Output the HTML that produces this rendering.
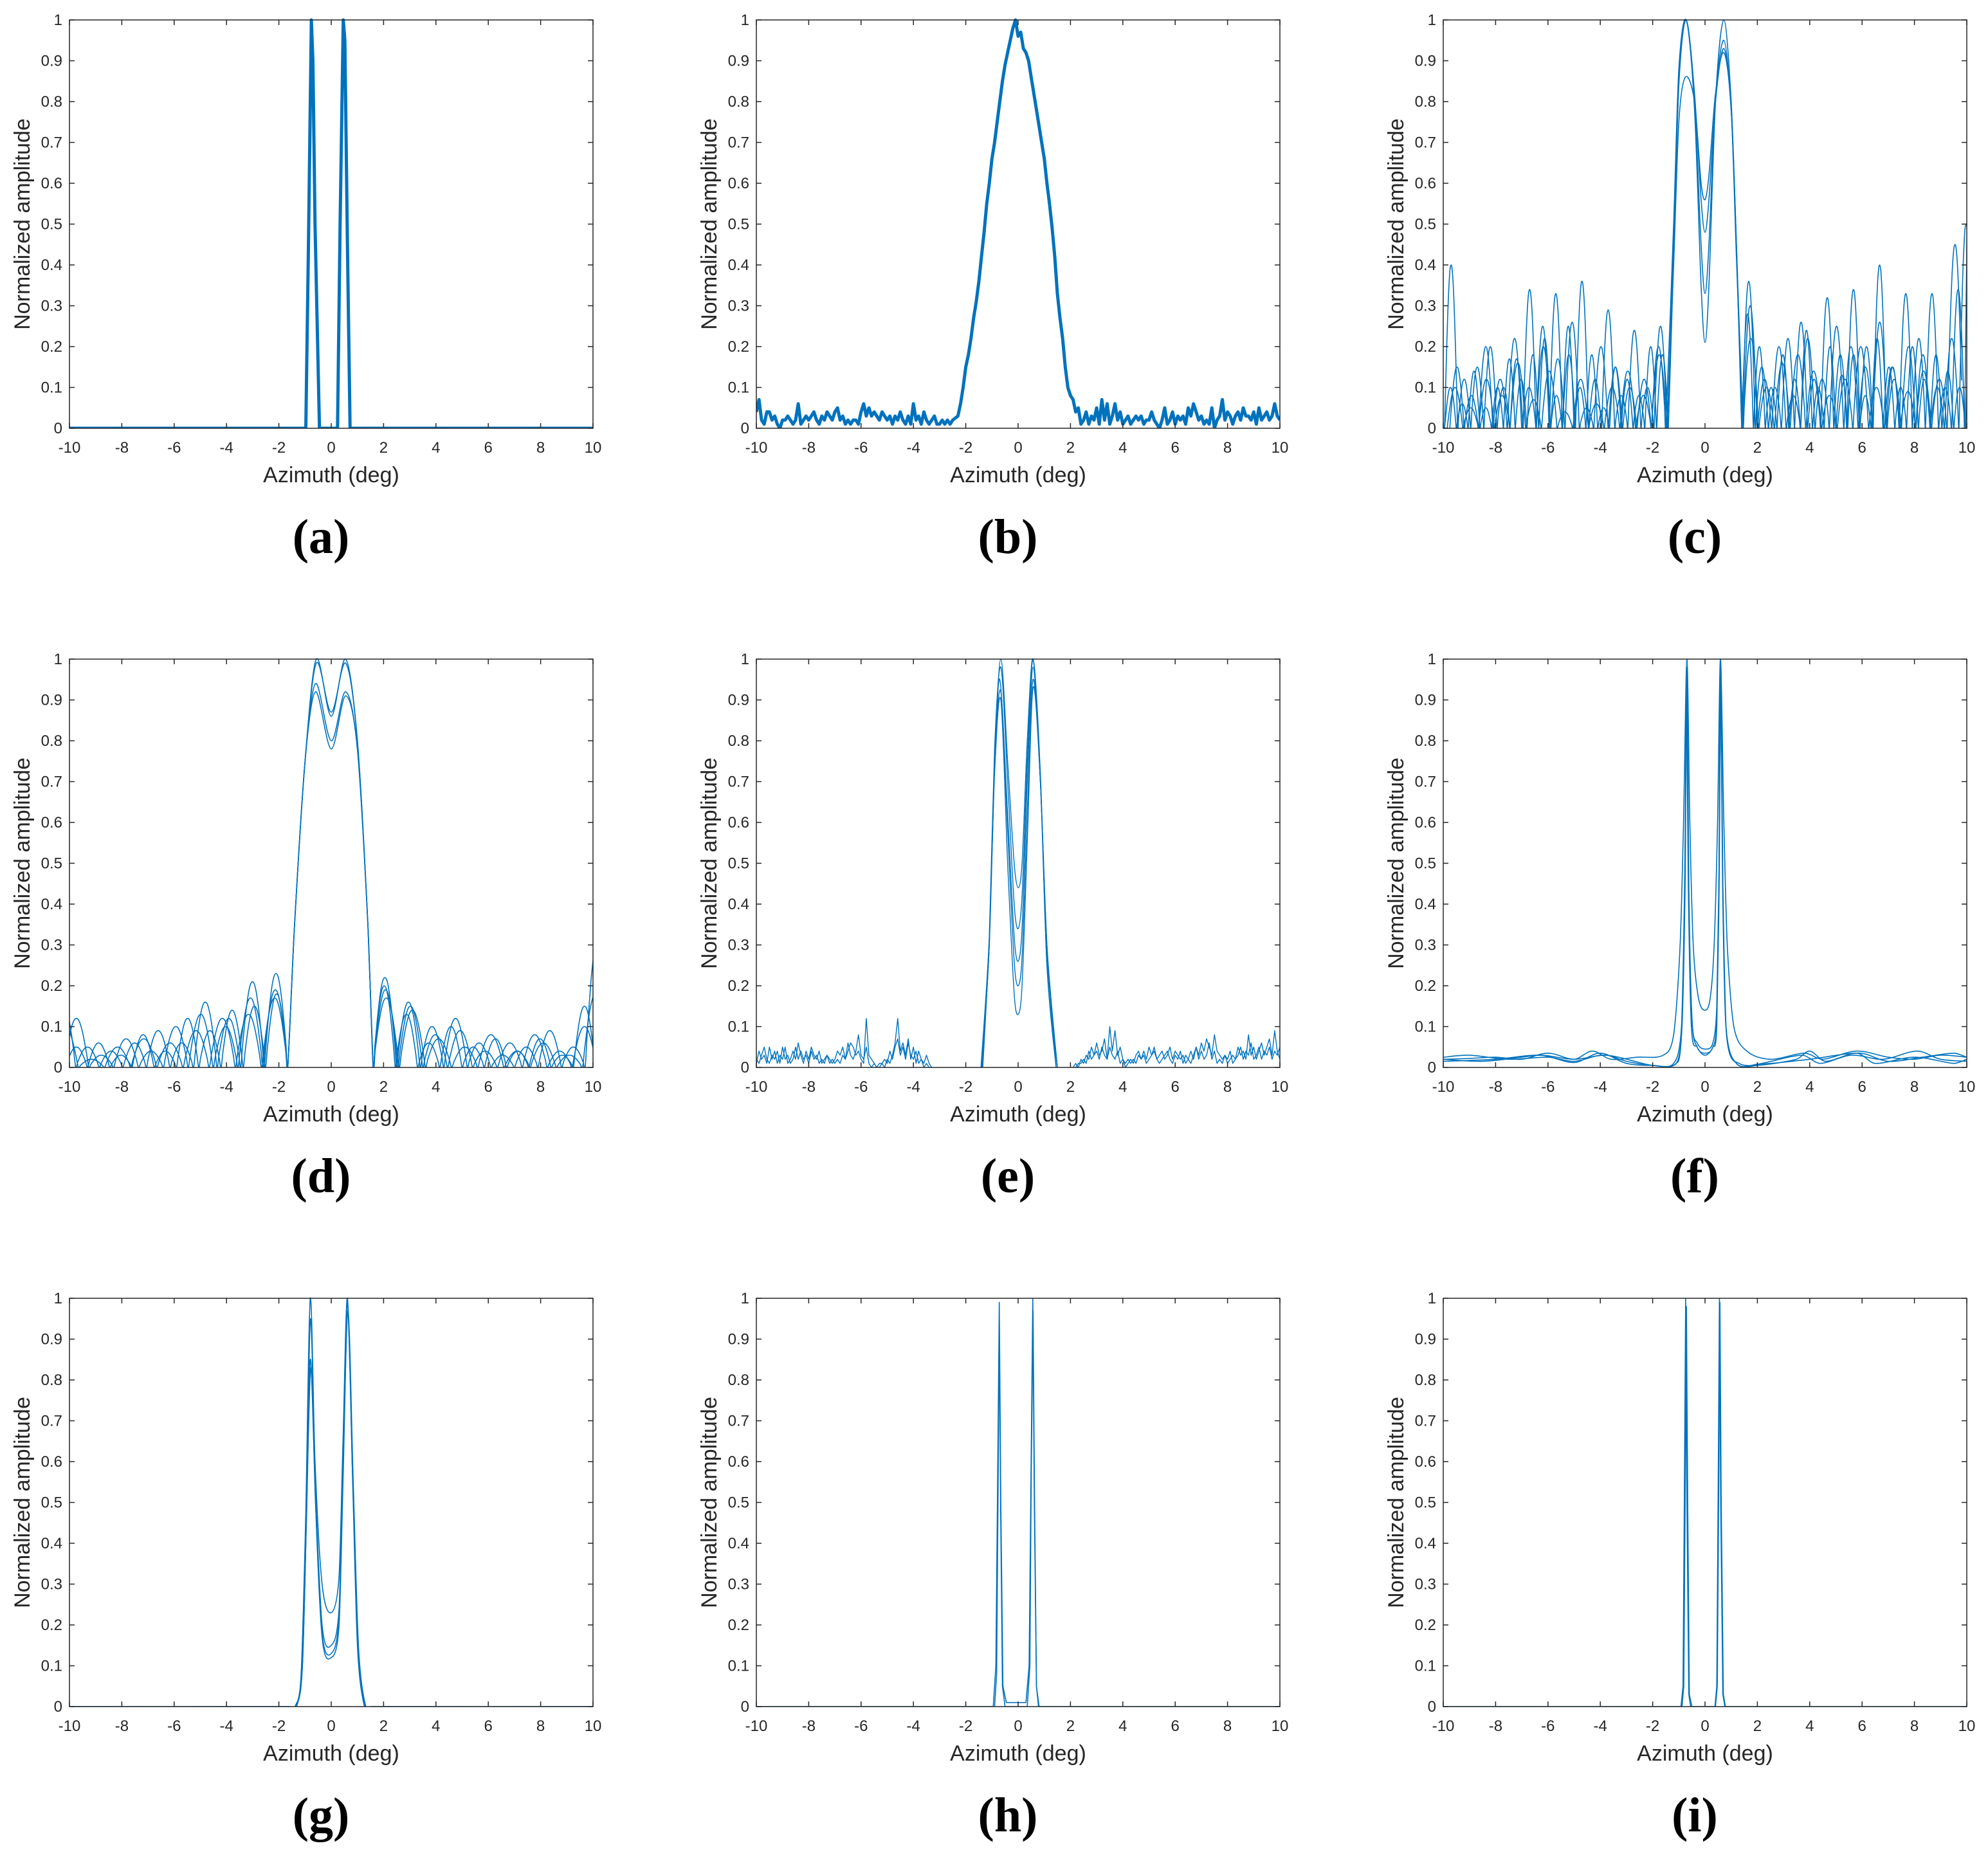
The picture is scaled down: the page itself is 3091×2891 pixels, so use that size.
<!DOCTYPE html>
<html><head><meta charset="utf-8">
<style>
html,body{margin:0;padding:0;background:#fff;}
svg{display:block;}
text{font-family:"Liberation Sans",Arial,sans-serif;fill:#262626;}
.cap{font-family:"Liberation Serif","Times New Roman",serif;font-weight:bold;fill:#000;}
</style></head>
<body>
<svg id="fig" width="3091" height="2891" viewBox="0 0 3091 2891" xmlns="http://www.w3.org/2000/svg"></svg>
<script>
// ---------- shared axis data ----------
const xTicks = [-10,-8,-6,-4,-2,0,2,4,6,8,10];
const xTickLabels = ["-10","-8","-6","-4","-2","0","2","4","6","8","10"];
const yTicks = [0,0.1,0.2,0.3,0.4,0.5,0.6,0.7,0.8,0.9,1];
const yTickLabels = ["0","0.1","0.2","0.3","0.4","0.5","0.6","0.7","0.8","0.9","1"];
const panelIds = ["a","b","c","d","e","f","g","h","i"];

// ---------- (a) ----------
const a1 = [[-10,0],[-0.97,0],[-0.87,0.45],[-0.76,1],[-0.7,0.9],[-0.62,0.5],[-0.45,0],[0.24,0],[0.34,0.5],[0.46,1],[0.52,0.95],[0.62,0.45],[0.72,0],[10,0]];

// ---------- (b) noisy single trace (grid step 0.1) ----------
const bNoiseL = [0.04,0.07,0.02,0.01,0.04,0.04,0.02,0.03,0.01,0.00,0.02,0.02,0.03,0.02,0.01,0.02,0.06,0.01,0.02,0.03,0.02,0.03,0.04,0.02,0.01,0.03,0.02,0.04,0.03,0.02,0.04,0.05,0.02,0.03,0.01,0.02,0.01,0.02,0.02,0.01,0.04,0.06,0.03,0.05,0.03,0.04,0.03,0.02,0.04,0.03,0.02,0.03,0.01,0.03,0.02,0.04,0.02,0.01,0.03,0.01,0.06,0.02,0.03,0.01,0.04,0.02,0.01,0.02,0.03,0.01,0.01,0.02,0.01,0.02,0.01,0.02];
const bMain = [0.03,0.06,0.10,0.15,0.18,0.22,0.27,0.31,0.36,0.42,0.48,0.55,0.60,0.66,0.70,0.75,0.80,0.85,0.89,0.92,0.95,0.98,1.0,0.96,0.97,0.93,0.92,0.90,0.86,0.82,0.78,0.74,0.70,0.66,0.60,0.55,0.49,0.42,0.33,0.27,0.22,0.15,0.10,0.08,0.07,0.04];
const bNoiseR = [0.05,0.01,0.02,0.04,0.01,0.03,0.02,0.05,0.01,0.07,0.02,0.06,0.01,0.03,0.06,0.02,0.04,0.01,0.02,0.03,0.01,0.02,0.03,0.02,0.03,0.01,0.02,0.02,0.04,0.02,0.01,0.00,0.02,0.05,0.01,0.02,0.04,0.01,0.03,0.02,0.03,0.01,0.05,0.03,0.06,0.04,0.02,0.03,0.01,0.02,0.01,0.05,0.00,0.02,0.03,0.07,0.02,0.04,0.03,0.01,0.03,0.04,0.02,0.05,0.03,0.03,0.02,0.04,0.01,0.05,0.02,0.03,0.04,0.02,0.03,0.06,0.03,0.02];
const bStartL = -10, bStartM = -2.3, bStartR = 2.3, bStep = 0.1;

// ---------- (c) main lobes + sidelobes ----------
const cMain1 = [[-1.45,0],[-1.2,0.45],[-1.0,0.85],[-0.72,1],[-0.4,0.78],[-0.15,0.35],[0,0.21],[0.15,0.35],[0.4,0.8],[0.72,1],[1.0,0.8],[1.2,0.45],[1.42,0]];
const cMain2 = [[-1.5,0],[-1.2,0.5],[-1.0,0.88],[-0.72,1],[-0.4,0.8],[-0.15,0.45],[0,0.33],[0.15,0.45],[0.4,0.8],[0.72,0.95],[1.0,0.78],[1.2,0.45],[1.45,0]];
const cMain3 = [[-1.4,0],[-1.2,0.42],[-1.0,0.84],[-0.72,1],[-0.4,0.82],[-0.15,0.56],[0,0.48],[0.15,0.56],[0.4,0.8],[0.72,0.93],[1.0,0.78],[1.2,0.45],[1.4,0]];
const cMain4 = [[-1.45,0],[-1.2,0.4],[-1.0,0.75],[-0.75,0.86],[-0.4,0.8],[-0.15,0.6],[0,0.56],[0.15,0.62],[0.4,0.82],[0.72,0.92],[1.0,0.78],[1.2,0.42],[1.45,0]];
const cLeft1 = [0.4,0.12,0.15,0.2,0.1,0.17,0.34,0.25,0.33,0.18,0.36,0.12,0.29,0.08,0.24,0.1,0.25];
const cRight1 = [0.36,0.15,0.1,0.22,0.26,0.12,0.32,0.18,0.34,0.2,0.40,0.15,0.33,0.22,0.33,0.1,0.34,0.9];
const cLeft2 = [0.15,0.08,0.2,0.12,0.22,0.1,0.2,0.17,0.26,0.05,0.2,0.15,0.1,0.12,0.2];
const cRight2 = [0.30,0.12,0.2,0.08,0.22,0.12,0.25,0.2,0.15,0.26,0.12,0.2,0.18,0.1,0.22,0.5];
const cLeft3 = [0.1,0.06,0.14,0.05,0.1,0.17,0.12,0.18,0.22,0.08,0.25,0.1,0.18,0.05,0.15,0.12,0.08,0.2,0.18];
const cRight3 = [0.28,0.2,0.1,0.18,0.12,0.24,0.1,0.2,0.13,0.18,0.08,0.22,0.15,0.1,0.2,0.12,0.18,0.14,0.1,0.28];
const cLeft4 = [0.1,0.05,0.12,0.08,0.16,0.07,0.14,0.04,0.12,0.06,0.1,0.14,0.08,0.18];
const cRight4 = [0.22,0.1,0.16,0.18,0.14,0.08,0.12,0.2,0.1,0.15,0.09,0.14,0.12,0.45];
const cWidths = [0.5,0.55,0.45,0.6];

// ---------- (d) ----------
const dMain1 = [[-1.66,0],[-1.4,0.35],[-1.0,0.75],[-0.57,1],[0,0.86],[0.55,1],[1.0,0.8],[1.4,0.35],[1.6,0]];
const dMain2 = [[-1.66,0],[-1.4,0.35],[-1.0,0.75],[-0.57,0.99],[0,0.87],[0.55,0.99],[1.0,0.8],[1.4,0.35],[1.6,0]];
const dMain3 = [[-1.66,0],[-1.4,0.35],[-1.0,0.75],[-0.6,0.94],[0,0.80],[0.55,0.92],[1.0,0.78],[1.4,0.35],[1.6,0]];
const dMain4 = [[-1.66,0],[-1.4,0.35],[-1.0,0.75],[-0.6,0.92],[0,0.78],[0.55,0.91],[1.0,0.78],[1.4,0.35],[1.6,0]];
const dLeft1 = [0.15,0.05,0.04,0.06,0.09,0.06,0.16,0.12,0.21,0.23];
const dRight1 = [0.22,0.16,0.1,0.12,0.06,0.03,0.05,0.09,0.05,0.3];
const dLeft2 = [0.12,0.03,0.07,0.04,0.1,0.13,0.1,0.17,0.19];
const dRight2 = [0.19,0.15,0.08,0.09,0.04,0.06,0.08,0.04,0.1];
const dLeft3 = [0.05,0.06,0.03,0.08,0.04,0.12,0.09,0.14,0.15,0.18];
const dRight3 = [0.2,0.13,0.06,0.1,0.05,0.07,0.04,0.07,0.03,0.15];
const dLeft4 = [0.1,0.02,0.05,0.07,0.06,0.09,0.12,0.13,0.17];
const dRight4 = [0.17,0.14,0.07,0.05,0.08,0.04,0.06,0.03,0.18];
const dWidths = [0.9,0.95,0.85,1.0];

// ---------- (e) ----------
const eMain1 = [[-1.4,0],[-1.1,0.3],[-0.9,0.75],[-0.66,1],[-0.4,0.75],[-0.15,0.5],[0,0.44],[0.15,0.5],[0.35,0.8],[0.57,1],[0.85,0.7],[1.1,0.25],[1.45,0]];
const eMain2 = [[-1.35,0],[-1.1,0.32],[-0.9,0.78],[-0.66,0.98],[-0.4,0.7],[-0.15,0.4],[0,0.34],[0.15,0.42],[0.35,0.75],[0.57,1],[0.85,0.72],[1.1,0.25],[1.5,0]];
const eMain3 = [[-1.38,0],[-1.1,0.3],[-0.9,0.74],[-0.7,0.95],[-0.4,0.62],[-0.15,0.32],[0,0.26],[0.15,0.34],[0.35,0.7],[0.57,0.98],[0.85,0.7],[1.1,0.3],[1.45,0]];
const eMain4 = [[-1.42,0],[-1.1,0.32],[-0.9,0.75],[-0.66,0.92],[-0.4,0.58],[-0.15,0.26],[0,0.2],[0.15,0.27],[0.35,0.62],[0.57,0.95],[0.85,0.7],[1.1,0.28],[1.5,0]];
const eMain5 = [[-1.4,0],[-1.1,0.3],[-0.9,0.72],[-0.66,0.9],[-0.4,0.5],[-0.15,0.18],[0,0.13],[0.15,0.2],[0.35,0.55],[0.57,0.93],[0.85,0.7],[1.1,0.3],[1.5,0]];
const eNoiseL1 = [0.01,0.04,0.02,0.03,0.01,0.05,0.02,0.04,0.01,0.03,0.02,0.05,0.01,0.02,0.04,0.02,0.06,0.03,0.01,0.04,0.02,0.05,0.03,0.02,0.04,0.01,0.02,0.03,0.01,0.02,0.01,0.02,0.01,0.03,0.02,0.04,0.06,0.05,0.03,0.04,0.02,0.01,0.12,0.03,0.02,0.01,0.00,0.00,0.01,0.00,0.02,0.01,0.03,0.06,0.12,0.04,0.06,0.03,0.07,0.02,0.05,0.01,0.04,0.02,0.01,0.03,0.01,0.00];
const eNoiseL2 = [0.02,0.01,0.03,0.05,0.02,0.01,0.03,0.02,0.04,0.01,0.05,0.02,0.03,0.01,0.02,0.05,0.02,0.04,0.02,0.03,0.01,0.04,0.02,0.03,0.01,0.02,0.01,0.03,0.02,0.01,0.02,0.04,0.03,0.05,0.02,0.06,0.03,0.02,0.04,0.08,0.03,0.02,0.05,0.01,0.00,0.01,0.00,0.01,0.01,0.02,0.01,0.04,0.02,0.05,0.07,0.03,0.05,0.02,0.06,0.03,0.02,0.04,0.01,0.02,0.00,0.01,0.00,0.00];
const eNoiseR1 = [0.00,0.01,0.00,0.02,0.01,0.03,0.02,0.05,0.03,0.04,0.02,0.05,0.03,0.02,0.10,0.04,0.09,0.03,0.05,0.02,0.01,0.02,0.01,0.02,0.01,0.03,0.02,0.04,0.02,0.05,0.03,0.04,0.02,0.03,0.04,0.02,0.03,0.05,0.02,0.04,0.03,0.02,0.03,0.01,0.02,0.04,0.02,0.05,0.03,0.06,0.04,0.07,0.05,0.03,0.08,0.04,0.03,0.02,0.03,0.01,0.02,0.03,0.02,0.05,0.03,0.04,0.02,0.08,0.03,0.05,0.02,0.04,0.06,0.03,0.05,0.07,0.03,0.09,0.04,0.02];
const eNoiseR2 = [0.00,0.00,0.01,0.01,0.02,0.01,0.04,0.02,0.03,0.06,0.03,0.04,0.07,0.02,0.05,0.03,0.02,0.04,0.01,0.02,0.00,0.01,0.02,0.01,0.03,0.04,0.02,0.03,0.01,0.02,0.03,0.05,0.02,0.01,0.02,0.03,0.04,0.02,0.01,0.03,0.02,0.04,0.01,0.03,0.02,0.01,0.03,0.05,0.02,0.04,0.02,0.03,0.06,0.02,0.04,0.01,0.02,0.01,0.03,0.02,0.04,0.01,0.02,0.03,0.05,0.02,0.04,0.03,0.06,0.02,0.03,0.05,0.02,0.04,0.03,0.05,0.02,0.04,0.03,0.05];
const eStartL = -10, eStartR = 2.1, eStep = 0.1;

// ---------- (f) ----------
const f1 = [[-10,0.02],[-9,0.022],[-8,0.025],[-7,0.02],[-6,0.035],[-5,0.02],[-4.3,0.04],[-3.6,0.02],[-2.6,0.025],[-1.6,0.03],[-1.2,0.08],[-0.95,0.3],[-0.82,0.6],[-0.69,1],[-0.58,0.6],[-0.45,0.3],[-0.25,0.17],[0,0.14],[0.2,0.17],[0.35,0.3],[0.48,0.6],[0.59,1],[0.72,0.6],[0.85,0.3],[1.1,0.1],[1.6,0.04],[2.5,0.02],[3.8,0.035],[4.5,0.02],[5.8,0.04],[7,0.025],[8,0.02],[9,0.03],[10,0.025]];
const f2 = [[-10,0.015],[-8,0.02],[-6.3,0.03],[-5,0.012],[-4,0.035],[-3,0.01],[-2,0.005],[-1.2,0.01],[-0.9,0.1],[-0.78,0.45],[-0.69,0.98],[-0.62,0.45],[-0.5,0.12],[-0.3,0.06],[0,0.045],[0.3,0.06],[0.45,0.15],[0.53,0.45],[0.59,1],[0.67,0.45],[0.8,0.1],[1.2,0.01],[2,0.005],[3.5,0.02],[4,0.04],[4.6,0.015],[5.8,0.035],[6.5,0.01],[8,0.025],[9.5,0.01],[10,0.02]];
const f3 = [[-10,0.02],[-8.5,0.015],[-7,0.025],[-6.2,0.03],[-5,0.02],[-3.8,0.03],[-3,0.015],[-2,0.005],[-1.1,0.01],[-0.88,0.1],[-0.76,0.45],[-0.7,0.95],[-0.63,0.45],[-0.5,0.12],[-0.3,0.05],[0,0.035],[0.3,0.05],[0.45,0.12],[0.53,0.45],[0.6,0.97],[0.68,0.45],[0.8,0.1],[1.2,0.01],[2,0.008],[3.7,0.03],[4.4,0.01],[5.6,0.03],[6.8,0.02],[8.1,0.04],[9,0.02],[10,0.015]];
const f4 = [[-10,0.025],[-9,0.03],[-7.5,0.02],[-6,0.025],[-5,0.015],[-4,0.03],[-3.3,0.025],[-2,0.005],[-1.1,0.01],[-0.9,0.08],[-0.77,0.45],[-0.71,0.9],[-0.64,0.45],[-0.52,0.1],[-0.3,0.05],[0,0.03],[0.3,0.05],[0.45,0.1],[0.54,0.45],[0.6,0.92],[0.68,0.45],[0.82,0.08],[1.3,0.01],[2.5,0.01],[4,0.02],[5.9,0.035],[7,0.015],[8.3,0.025],[9.5,0.035],[10,0.025]];

// ---------- (g) ----------
const g1 = [[-10,0],[-1.6,0],[-1.35,0.005],[-1.15,0.08],[-0.98,0.45],[-0.8,1],[-0.62,0.6],[-0.35,0.3],[0,0.23],[0.3,0.32],[0.45,0.65],[0.62,1],[0.82,0.55],[1.0,0.15],[1.25,0.005],[1.5,0],[10,0]];
const g2 = [[-10,0],[-1.6,0],[-1.3,0.005],[-1.1,0.1],[-0.95,0.45],[-0.8,0.85],[-0.62,0.55],[-0.35,0.2],[0,0.15],[0.3,0.24],[0.45,0.6],[0.62,0.99],[0.82,0.55],[1.02,0.15],[1.28,0.005],[1.55,0],[10,0]];
const g3 = [[-10,0],[-1.6,0],[-1.3,0.005],[-1.1,0.1],[-0.95,0.45],[-0.78,0.83],[-0.6,0.5],[-0.35,0.18],[0,0.13],[0.3,0.22],[0.45,0.58],[0.64,0.97],[0.84,0.55],[1.04,0.15],[1.3,0.005],[1.55,0],[10,0]];
const g4 = [[-10,0],[-1.6,0],[-1.32,0.005],[-1.12,0.1],[-0.96,0.45],[-0.79,0.95],[-0.6,0.5],[-0.35,0.17],[0,0.12],[0.3,0.2],[0.45,0.55],[0.63,0.96],[0.83,0.55],[1.03,0.15],[1.3,0.005],[1.55,0],[10,0]];

// ---------- (h) ----------
const h1 = [[-10,0],[-0.95,0],[-0.85,0.1],[-0.79,0.5],[-0.72,0.99],[-0.66,0.5],[-0.58,0.05],[-0.45,0.01],[0.3,0.01],[0.42,0.1],[0.49,0.55],[0.56,1],[0.62,0.5],[0.7,0.05],[0.78,0],[10,0]];
const h2 = [[-10,0],[-0.9,0],[-0.82,0.08],[-0.77,0.5],[-0.72,0.93],[-0.67,0.5],[-0.6,0.05],[-0.5,0],[0.35,0],[0.45,0.1],[0.5,0.55],[0.57,0.97],[0.63,0.5],[0.7,0.05],[0.8,0],[10,0]];

// ---------- (i) ----------
const i1 = [[-10,0],[-0.92,0],[-0.84,0.05],[-0.79,0.5],[-0.74,1],[-0.69,0.5],[-0.62,0.03],[-0.55,0],[0.38,0],[0.45,0.05],[0.5,0.5],[0.55,1],[0.6,0.5],[0.68,0.03],[0.76,0],[10,0]];
const i2 = [[-10,0],[-0.88,0],[-0.81,0.05],[-0.76,0.5],[-0.71,0.98],[-0.66,0.5],[-0.6,0.03],[-0.5,0],[0.4,0],[0.47,0.05],[0.52,0.5],[0.57,0.99],[0.62,0.5],[0.7,0.03],[0.78,0],[10,0]];

// ---------- layout ----------
const colX = [108,1176,2244], rowY = [31,1025,2019];
const AW = 814, AH = 635;
const BLUE = "#0072BD";
const NS = "http://www.w3.org/2000/svg";
const svg = document.getElementById("fig");
const LOBE_SHAPE = [0,0.26,0.5,0.71,0.87,0.97,1,0.97,0.87,0.71,0.5,0.26]; // arch profile (sine-like)

function mk(tag, attrs, parent){
  const e = document.createElementNS(NS, tag);
  for (const k in attrs) e.setAttribute(k, attrs[k]);
  (parent||svg).appendChild(e);
  return e;
}
function gridPts(start, step, vals){ return vals.map((v,i)=>[start+i*step, v]); }
function lobeArch(x0, w, h, pts){
  const m = LOBE_SHAPE.length;
  for (let j=0;j<m;j++) pts.push([x0 + w*j/m, h*LOBE_SHAPE[j]]);
}
function lobePts(anchor, w, heights, leftSide){
  const pts = [];
  const n = heights.length;
  const s = leftSide ? anchor - n*w : anchor;
  for (let i=0;i<n;i++) lobeArch(s+i*w, w, heights[i], pts);
  return pts;
}
function withLobes(main, left, right, w){
  return lobePts(main[0][0], w, left, true).concat(main, lobePts(main[main.length-1][0], w, right, false).slice(1));
}

const panels = {
  a: {lw:5, smooth:false, series:[a1]},
  b: {lw:5, smooth:false, series:[gridPts(bStartL,bStep,bNoiseL).concat(gridPts(bStartM,bStep,bMain), gridPts(bStartR,bStep,bNoiseR))]},
  c: {lw:1.6, smooth:true, series:[withLobes(cMain1,cLeft1,cRight1,cWidths[0]),withLobes(cMain2,cLeft2,cRight2,cWidths[1]),withLobes(cMain3,cLeft3,cRight3,cWidths[2]),withLobes(cMain4,cLeft4,cRight4,cWidths[3])]},
  d: {lw:1.6, smooth:true, series:[withLobes(dMain1,dLeft1,dRight1,dWidths[0]),withLobes(dMain2,dLeft2,dRight2,dWidths[1]),withLobes(dMain3,dLeft3,dRight3,dWidths[2]),withLobes(dMain4,dLeft4,dRight4,dWidths[3])]},
  e: {lw:1.4, smooth:false, series:[eMain1,eMain2,eMain3,eMain4,eMain5].concat([gridPts(eStartL,eStep,eNoiseL1),gridPts(eStartL,eStep,eNoiseL2),gridPts(eStartR,eStep,eNoiseR1),gridPts(eStartR,eStep,eNoiseR2)]), smoothIdx:[0,1,2,3,4]},
  f: {lw:1.6, smooth:true, series:[f1,f2,f3,f4]},
  g: {lw:1.6, smooth:true, series:[g1,g2,g3,g4]},
  h: {lw:1.6, smooth:false, series:[h1,h2]},
  i: {lw:1.6, smooth:false, series:[i1,i2]}
};

function pathD(pts, sx, sy, smooth){
  const P = pts.map(p=>[sx(p[0]), sy(p[1])]);
  let d = "M"+P[0][0].toFixed(1)+","+P[0][1].toFixed(1);
  if (!smooth){
    for (let i=1;i<P.length;i++) d += "L"+P[i][0].toFixed(1)+","+P[i][1].toFixed(1);
    return d;
  }
  for (let i=0;i<P.length-1;i++){
    const p0 = P[i-1]||P[i], p1 = P[i], p2 = P[i+1], p3 = P[i+2]||P[i+1];
    const dx = p2[0]-p1[0];
    let t1 = [(p2[0]-p0[0])/6, (p2[1]-p0[1])/6];
    let t2 = [(p3[0]-p1[0])/6, (p3[1]-p1[1])/6];
    // clamp tangents so control points stay inside the segment in x (no loops)
    if (Math.abs(t1[0]) > dx/3 && t1[0]!==0){ const f=(dx/3)/Math.abs(t1[0]); t1=[t1[0]*f,t1[1]*f]; }
    if (Math.abs(t2[0]) > dx/3 && t2[0]!==0){ const f=(dx/3)/Math.abs(t2[0]); t2=[t2[0]*f,t2[1]*f]; }
    const c1 = [p1[0]+t1[0], p1[1]+t1[1]];
    const c2 = [p2[0]-t2[0], p2[1]-t2[1]];
    d += "C"+c1[0].toFixed(1)+","+c1[1].toFixed(1)+" "+c2[0].toFixed(1)+","+c2[1].toFixed(1)+" "+p2[0].toFixed(1)+","+p2[1].toFixed(1);
  }
  return d;
}

panelIds.forEach((id, k)=>{
  const L = colX[k%3], T = rowY[Math.floor(k/3)];
  const sx = v => L + (v+10)/20*AW;
  const sy = v => T + AH - v*AH;
  const g = mk("g", {});
  
  
  const cp = mk("clipPath", {id:"clip-"+id}, g);
  mk("rect", {x:L, y:T-3, width:AW, height:AH+3}, cp);

  const sg = mk("g", {"clip-path":"url(#clip-"+id+")"}, g);
  
  
  const P = panels[id];
  P.series.forEach((s, si)=>{
    const sm = P.smoothIdx ? P.smoothIdx.includes(si) : P.smooth;
    const el = mk("path", {d:pathD(s,sx,sy,sm), fill:"none", stroke:BLUE, "stroke-width":P.lw, "stroke-linejoin":"round"}, sg);
    
    
  });

  const box = mk("rect", {x:L, y:T, width:AW, height:AH, fill:"none", stroke:"#262626", "stroke-width":1.5}, g);
  
  

  xTicks.forEach((t, ti)=>{
    const x = sx(t);
    mk("line", {x1:x, y1:T+AH, x2:x, y2:T+AH-8, stroke:"#262626", "stroke-width":1.5}, g);
    mk("line", {x1:x, y1:T, x2:x, y2:T+8, stroke:"#262626", "stroke-width":1.5}, g);
    const tx = mk("text", {x:x, y:T+AH+38, "font-size":24, "text-anchor":"middle"}, g);
    tx.textContent = xTickLabels[ti];
    
    
  });
  yTicks.forEach((t, ti)=>{
    const y = sy(t);
    mk("line", {x1:L, y1:y, x2:L+8, y2:y, stroke:"#262626", "stroke-width":1.5}, g);
    mk("line", {x1:L+AW, y1:y, x2:L+AW-8, y2:y, stroke:"#262626", "stroke-width":1.5}, g);
    const ty = mk("text", {x:L-11, y:y+8, "font-size":24, "text-anchor":"end"}, g);
    ty.textContent = yTickLabels[ti];
    
    
  });
  const xt = mk("text", {x:L+AW/2, y:T+AH+84, "font-size":34, "text-anchor":"middle"}, g);
  xt.textContent = "Azimuth (deg)";
  
  
  const yx = L-62, yy = T+AH/2;
  const yt = mk("text", {x:yx, y:yy, "font-size":34, "text-anchor":"middle", transform:"rotate(-90 "+yx+" "+yy+")"}, g);
  yt.textContent = "Normalized amplitude";
  
  
  const cap = mk("text", {x:L+AW/2-16, y:T+AH+194, "font-size":76, "text-anchor":"middle", class:"cap"}, g);
  cap.textContent = "("+id+")";
  
  
});
</script>
</body></html>
